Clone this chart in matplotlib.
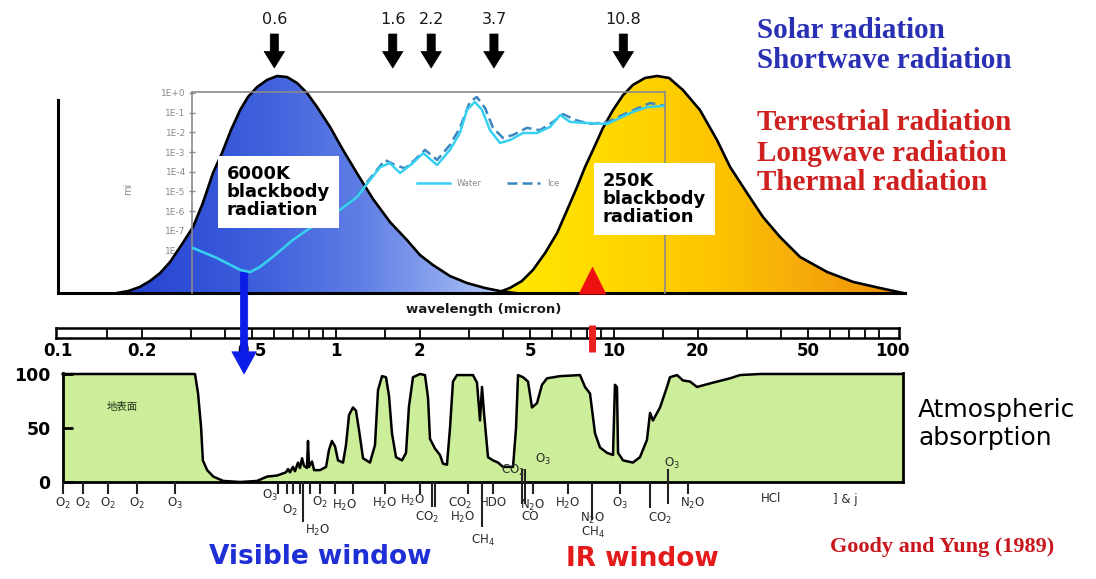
import numpy as np
import matplotlib
matplotlib.use("Agg")
import matplotlib.pyplot as plt
from matplotlib.patches import Polygon
from matplotlib.colors import to_rgb
from matplotlib.ticker import NullLocator

plt.rcParams['font.family'] = ['DejaVu Sans']

# ------------------------------------------------------------------ data
# Blackbody emission per log-wavelength, normalised to the peak
sun_wl = [0.163, 0.179, 0.197, 0.214, 0.233, 0.253, 0.275, 0.306, 0.332, 0.361,
          0.389, 0.419, 0.452, 0.482, 0.520, 0.565, 0.614, 0.667, 0.724, 0.786,
          0.855, 0.952, 1.060, 1.200, 1.359, 1.564, 1.800, 2.005, 2.232, 2.571,
          2.959, 3.435, 3.890, 4.404]
sun_rad = [0.0, 0.009, 0.028, 0.055, 0.092, 0.143, 0.212, 0.304, 0.415, 0.553,
           0.645, 0.751, 0.843, 0.903, 0.949, 0.982, 1.0, 0.995, 0.968, 0.922,
           0.857, 0.765, 0.659, 0.544, 0.433, 0.327, 0.244, 0.175, 0.129, 0.078,
           0.046, 0.023, 0.009, 0.0]

earth_wl = [3.79, 4.22, 4.66, 5.11, 5.65, 6.24, 6.78, 7.36, 7.87, 8.40,
            9.12, 9.92, 10.78, 11.70, 12.93, 14.29, 15.78, 17.71, 20.38, 23.47,
            26.15, 30.09, 34.35, 39.56, 46.70, 58.4, 72.5, 90.5, 109.5]
earth_rad = [0.0, 0.023, 0.055, 0.106, 0.184, 0.276, 0.382, 0.488, 0.581, 0.659,
             0.760, 0.843, 0.912, 0.959, 0.991, 1.0, 0.991, 0.935, 0.843, 0.705,
             0.581, 0.461, 0.350, 0.258, 0.166, 0.097, 0.051, 0.023, 0.0]

# Imaginary part of the refractive index (mi) of liquid water and ice
water_wl = [0.306, 0.373, 0.452, 0.491, 0.533, 0.593, 0.700, 0.787, 0.897, 1.03,
            1.19, 1.30, 1.44, 1.56, 1.70, 1.89, 2.06, 2.31, 2.57, 2.79,
            2.96, 3.16, 3.35, 3.58, 3.89, 4.23, 4.71, 5.28, 5.89, 6.40,
            6.95, 8.0, 9.44, 10.5, 11.7, 13.1, 15.0]
water_mi = [1.35e-8, 4.2e-9, 1.05e-9, 8.1e-10, 1.5e-9, 4.8e-9, 3.5e-8, 1.1e-7, 3.5e-7, 1.15e-6,
            5.2e-6, 2.7e-5, 1.7e-4, 2.8e-4, 8.7e-5, 2.8e-4, 8.9e-4, 2.2e-4, 1.3e-3, 9.3e-3,
            0.14, 0.35, 0.14, 0.013, 2.9e-3, 4.1e-3, 9.3e-3, 9.3e-3, 0.019, 0.076,
            0.034, 0.030, 0.027, 0.054, 0.11, 0.19, 0.22]
ice_wl = [0.306, 0.373, 0.452, 0.491, 0.533, 0.593, 0.700, 0.787, 0.897, 1.03,
          1.19, 1.33, 1.50, 1.63, 1.77, 1.92, 2.09, 2.31, 2.57, 2.79,
          3.03, 3.21, 3.44, 3.67, 3.99, 4.33, 4.86, 5.42, 6.04, 6.56,
          7.24, 8.20, 9.51, 10.7, 12.2, 13.5, 15.2]
ice_mi = [1.35e-8, 4.2e-9, 1.05e-9, 8.1e-10, 1.5e-9, 4.8e-9, 3.5e-8, 1.1e-7, 3.5e-7, 1.15e-6,
          6.6e-6, 4.9e-5, 4.0e-4, 2.2e-4, 1.5e-4, 4.0e-4, 1.3e-3, 4.0e-4, 2.3e-3, 0.017,
          0.35, 0.63, 0.17, 0.017, 5.2e-3, 7.4e-3, 0.017, 0.013, 0.034, 0.085,
          0.043, 0.027, 0.034, 0.076, 0.17, 0.31, 0.22]
mi_ticks = [1e0, 1e-1, 1e-2, 1e-3, 1e-4, 1e-5, 1e-6, 1e-7, 1e-8, 1e-9]
mi_tick_labels = ['1E+0', '1E-1', '1E-2', '1E-3', '1E-4', '1E-5', '1E-6', '1E-7', '1E-8', '1E-9']

# Atmospheric absorption (%) from the ground
abs_wl = [0.104, 0.311, 0.319, 0.327, 0.332, 0.344, 0.362, 0.393, 0.452, 0.520,
          0.565, 0.614, 0.661, 0.672, 0.683, 0.700, 0.712, 0.730, 0.742, 0.755,
          0.767, 0.786, 0.793, 0.800, 0.820, 0.834, 0.876, 0.921, 0.944, 0.967,
          0.992, 1.017, 1.060, 1.086, 1.114, 1.151, 1.180, 1.210, 1.251, 1.325,
          1.381, 1.416, 1.464, 1.513, 1.551, 1.590, 1.644, 1.727, 1.786, 1.830,
          1.892, 2.005, 2.090, 2.143, 2.178, 2.270, 2.366, 2.426, 2.507, 2.571,
          2.635, 2.724, 3.110, 3.215, 3.296, 3.351, 3.407, 3.522, 3.671, 3.826,
          3.988, 4.333, 4.442, 4.516, 4.707, 4.906, 5.070, 5.284, 5.508, 5.741,
          6.394, 7.546, 7.866, 8.197, 8.546, 8.904, 9.437, 9.917, 10.08, 10.25,
          10.34, 10.78, 11.70, 12.40, 13.14, 13.48, 13.81, 14.64, 15.51, 15.90,
          16.86, 17.71, 18.77, 19.89, 22.71, 26.15, 28.39, 33.51, 109.5]
abs_pct = [100, 100, 82, 51, 20, 11, 5, 1, 0, 1,
           5, 6, 9, 12, 9, 14, 10, 18, 13, 22,
           15, 13, 38, 14, 19, 11, 11, 14, 30, 38,
           33, 20, 18, 34, 62, 69, 66, 48, 22, 18,
           34, 85, 98, 97, 80, 45, 23, 20, 27, 70,
           97, 100, 99, 78, 40, 31, 25, 17, 16, 50,
           93, 99, 99, 92, 57, 88, 64, 23, 20, 18,
           14, 14, 50, 99, 97, 93, 69, 73, 90, 96,
           98, 99, 88, 82, 45, 32, 27, 25, 90, 88,
           27, 20, 18, 23, 39, 64, 57, 69, 88, 97,
           99, 94, 93, 88, 92, 96, 99, 100, 100]

# Absorption band centres and the absorbing gases
band_wl = [0.104, 0.123, 0.151, 0.192, 0.264, 0.618, 0.667, 0.700, 0.742, 0.761,
           0.806, 0.876, 0.992, 1.151, 1.500, 2.005, 2.215, 2.270, 2.983, 3.351,
           3.671, 4.666, 4.785, 5.113, 6.836, 8.337, 10.51, 13.48, 15.65, 18.47]
gas_names = ['O$_2$', 'O$_2$', 'O$_2$', 'O$_2$', 'O$_3$', 'O$_3$', 'O$_2$', 'H$_2$O', 'O$_2$',
             'H$_2$O', 'H$_2$O', 'H$_2$O', 'CO$_2$', 'CO$_2$', 'H$_2$O', 'CH$_4$', 'HDO',
             'N$_2$O', 'CO', 'H$_2$O', 'N$_2$O', 'CH$_4$', 'O$_3$', 'CO$_2$', 'N$_2$O',
             'HCl', '] & j', 'CO$_2$', 'O$_3$', 'O$_3$']
gas_wl = [0.104, 0.123, 0.151, 0.192, 0.264, 0.579, 0.683, 0.855, 0.876,
          1.077, 1.500, 1.892, 2.125, 2.793, 2.862, 3.379, 3.671,
          5.113, 4.986, 6.836, 8.40, 8.40, 10.51, 14.64, 19.09,
          36.7, 67.7, 4.333, 5.55, 16.17]

# Satellite channels and wavelength scale
channel_wl = [0.6, 1.6, 2.2, 3.7, 10.8]
scale_major = [0.1, 0.2, 0.5, 1, 2, 5, 10, 20, 50, 100]
scale_labels = ['0.1', '0.2', '0.5', '1', '2', '5', '10', '20', '50', '100']
scale_minor = [0.15, 0.2, 0.3, 0.4, 0.5, 0.6, 0.7, 0.8, 0.9, 1, 1.5, 2, 3, 4, 5, 6, 7,
               8, 9, 10, 15, 20, 30, 40, 50, 60, 70, 80, 90]
visible_window_wl = 0.467
ir_window_wl = 8.3

# ------------------------------------------------------------------ layout helpers
W, H, DPI = 1096, 579, 100
PX_AT_1UM, PX_PER_DECADE = 336, 278
BASE_PX, PEAK_PX = 293, 217


def rect(l, t, r, b):
    return [l / W, 1 - b / H, (r - l) / W, (b - t) / H]


def fy(py):
    return 1 - py / H


def px2lam(px):
    return 10 ** ((px - PX_AT_1UM) / PX_PER_DECADE)


def no_ticks(ax):
    for a in (ax.xaxis, ax.yaxis):
        a.set_major_locator(NullLocator())
        a.set_minor_locator(NullLocator())


def gradient_fill(ax, x, y, stops, zorder):
    poly = Polygon(np.column_stack([x, y]), closed=True, facecolor='none',
                   edgecolor='none', transform=ax.transData)
    ax.add_patch(poly)
    fr = np.linspace(0, 1, 800)
    pos = [s[0] for s in stops]
    cols = np.array([to_rgb(s[1]) for s in stops])
    rgb = np.stack([np.interp(fr, pos, cols[:, k]) for k in range(3)], axis=-1)
    im = ax.imshow(rgb[np.newaxis, :, :], extent=(0, 1, 0, 1), transform=ax.transAxes,
                   aspect='auto', zorder=zorder, interpolation='bilinear')
    im.set_clip_path(poly)


fig = plt.figure(figsize=(W / DPI, H / DPI), dpi=DPI)
fig.patch.set_facecolor('white')

# ------------------------------------------------------------------ blackbody panel
ax = fig.add_axes(rect(58, 60, 905, BASE_PX))
ax.set_zorder(2)
ax.patch.set_alpha(0)
ax.set_xscale('log')
ax.set_xlim(px2lam(58), px2lam(905))
ax.set_ylim(0, (BASE_PX - 60) / PEAK_PX)
ax.set_autoscale_on(False)
no_ticks(ax)
for s in ('top', 'right'):
    ax.spines[s].set_visible(False)
ax.spines['left'].set_linewidth(2.2)
ax.spines['bottom'].set_linewidth(2.2)
ax.spines['left'].set_bounds(0, (BASE_PX - 100) / PEAK_PX)


def frac(px):
    return (px - 58) / (905 - 58)


blue_stops = [(0.0, '#2440cc'), (frac(117), '#2540cf'), (frac(200), '#3252d8'),
              (frac(280), '#4465dd'), (frac(360), '#5f7ee5'), (frac(440), '#8aa4ee'),
              (frac(520), '#c4d3f8'), (1.0, '#c4d3f8')]
yellow_stops = [(0.0, '#ffe900'), (frac(500), '#ffe900'), (frac(620), '#ffd700'),
                (frac(720), '#fcc300'), (frac(800), '#f6ac0c'), (frac(900), '#f08f00'),
                (1.0, '#f08f00')]
gradient_fill(ax, sun_wl, sun_rad, blue_stops, 1)
gradient_fill(ax, earth_wl, earth_rad, yellow_stops, 1.1)
ax.plot(sun_wl, sun_rad, color='black', lw=1.9, zorder=3, solid_joinstyle='round')
ax.plot(earth_wl, earth_rad, color='black', lw=1.9, zorder=3, solid_joinstyle='round')

# IR window marker on the wavelength baseline
ax.plot([ir_window_wl], [0.058], marker='^', ms=20, color='#ee1111', mec='none',
        clip_on=False, zorder=4)

# satellite channel arrows
for wl in channel_wl:
    ax.annotate('', xy=(wl, fy(68)), xycoords=('data', 'figure fraction'),
                xytext=(wl, fy(34)), textcoords=('data', 'figure fraction'),
                arrowprops=dict(arrowstyle='simple,head_length=0.85,head_width=1.05,tail_width=0.42',
                                mutation_scale=14, fc='black', ec='black', lw=0.5,
                                shrinkA=0, shrinkB=0),
                annotation_clip=False)
    ax.annotate(f'{wl:g}', xy=(wl, fy(20)), xycoords=('data', 'figure fraction'),
                ha='center', va='center', fontsize=11.5, color='#1a1a1a',
                annotation_clip=False)

# visible window arrow down to the absorption panel
ax.annotate('', xy=(visible_window_wl, fy(374)), xycoords=('data', 'figure fraction'),
            xytext=(visible_window_wl, fy(272)), textcoords=('data', 'figure fraction'),
            arrowprops=dict(arrowstyle='simple,head_length=1.0,head_width=1.1,tail_width=0.33',
                            mutation_scale=16, fc='#0b1de6', ec='#0b1de6', lw=0.5,
                            shrinkA=0, shrinkB=0),
            annotation_clip=False)

# ------------------------------------------------------------------ refractive index inset
mi_lo, mi_hi = 10 ** (-(BASE_PX - 93) / 19.7), 10 ** (1 / 19.7)

ax_fr = fig.add_axes(rect(192, 92, 665, BASE_PX))
ax_fr.set_zorder(1.5)
ax_fr.patch.set_alpha(0)
ax_fr.set_xscale('log')
ax_fr.set_yscale('log')
ax_fr.set_xlim(px2lam(192), px2lam(665))
ax_fr.set_ylim(mi_lo, mi_hi)
for s in ax_fr.spines.values():
    s.set_visible(False)
ax_fr.xaxis.set_major_locator(NullLocator())
ax_fr.xaxis.set_minor_locator(NullLocator())
ax_fr.set_yticks(mi_ticks, labels=mi_tick_labels)
ax_fr.yaxis.set_minor_locator(NullLocator())
ax_fr.tick_params(axis='y', direction='inout', length=5, width=1, color='#8a8a8a',
                  labelsize=6.5, labelcolor='#8a8a8a', pad=2)
ax_fr.set_ylabel('mi', fontsize=7, color='#8a8a8a')
ax_fr.yaxis.set_label_coords(-0.125, 0.52)

ax_in = fig.add_axes(rect(192, 92, 665, BASE_PX))
ax_in.set_zorder(3)
ax_in.patch.set_alpha(0)
ax_in.set_xscale('log')
ax_in.set_yscale('log')
ax_in.set_xlim(px2lam(192), px2lam(665))
ax_in.set_ylim(mi_lo, mi_hi)
no_ticks(ax_in)
for s in ('top', 'left', 'right'):
    ax_in.spines[s].set_color('#8a8a8a')
    ax_in.spines[s].set_linewidth(1.2)
ax_in.spines['bottom'].set_visible(False)
ax_in.plot(water_wl, water_mi, color='#38d0f0', lw=1.8, label='Water', zorder=3)
ax_in.plot(ice_wl, ice_mi, color='#3a86c0', lw=1.8, ls=(0, (4, 2)), label='Ice', zorder=2.9)
ax_in.legend(loc='center left', bbox_to_anchor=(417 / W, fy(183)),
             bbox_transform=fig.transFigure, ncol=2, frameon=False, fontsize=6,
             handlelength=4.0, columnspacing=3.0, handletextpad=0.8, borderpad=0,
             borderaxespad=0, labelcolor='#8a8a8a')

# ------------------------------------------------------------------ wavelength scale bar
ax_sc = fig.add_axes(rect(56, 328, 899, 338))
ax_sc.set_zorder(1)
ax_sc.set_xscale('log')
ax_sc.set_xlim(px2lam(56), px2lam(899))
ax_sc.set_ylim(0, 1)
ax_sc.yaxis.set_major_locator(NullLocator())
ax_sc.set_xticks(scale_major, labels=scale_labels, fontweight='bold', fontsize=12)
ax_sc.xaxis.set_minor_locator(NullLocator())
ax_sc.tick_params(axis='x', length=0, pad=3)
for s in ax_sc.spines.values():
    s.set_linewidth(1.8)
ax_sc.vlines(scale_minor, 0, 1, color='black', lw=1.3)
ax_sc.plot([ir_window_wl, ir_window_wl], [-1.4, 1.3], color='#e82020', lw=5,
           solid_capstyle='butt', clip_on=False, zorder=5)

# ------------------------------------------------------------------ absorption panel
PCT_PX = 1.08
ax_b = fig.add_axes(rect(63, 373, 903, 482))
ax_b.set_zorder(1)
ax_b.set_xscale('log')
ax_b.set_xlim(px2lam(63), px2lam(903))
ax_b.set_ylim(0, 109 / PCT_PX)
ax_b.set_autoscale_on(False)
ax_b.xaxis.set_major_locator(NullLocator())
ax_b.xaxis.set_minor_locator(NullLocator())
ax_b.spines['top'].set_visible(False)
for s in ('left', 'bottom', 'right'):
    ax_b.spines[s].set_linewidth(2.0)
ax_b.set_yticks([0, 50, 100], labels=['0', '50', '100'], fontweight='bold', fontsize=12.5)
ax_b.tick_params(axis='y', direction='in', length=7, width=2, pad=9)

ax_b.fill_between(abs_wl, abs_pct, 0, color='#ccee9a', lw=0, zorder=1)
ax_b.plot(abs_wl, abs_pct, color='black', lw=1.8, zorder=2, clip_on=False,
          solid_joinstyle='round')
ax_b.text(0.17, 69, '地表面', fontsize=7.5, color='#23301a', ha='center', va='center',
          family=['Noto Sans CJK JP', 'DejaVu Sans'])

# band ticks below the frame (lengths in pixels)
tick_down = [12] * len(band_wl)
tick_up = [0] * len(band_wl)
for i, n in ((9, 40), (16, 25), (17, 25), (19, 45), (21, 22), (22, 22),
             (25, 38), (27, 26), (28, 22)):
    tick_down[i] = n
for i in (21, 22, 28):
    tick_up[i] = 13
ax_b.vlines(band_wl, [-d / PCT_PX for d in tick_down], [u / PCT_PX for u in tick_up],
            color='#222222', lw=1.5, clip_on=False, zorder=3)

# gas labels: vertical pixel row of each label centre
gas_row_px = [503, 503, 503, 503, 503, 495, 510, 530, 502,
              505, 503, 500, 517, 503, 517, 540, 503,
              505, 517, 503, 518, 532, 503, 518, 503,
              499, 499, 470, 459, 463]
for name, wl, row in zip(gas_names, gas_wl, gas_row_px):
    ax_b.annotate(name, xy=(wl, 0), xytext=(0, -(row - 482) * 72 / DPI),
                  textcoords='offset points', ha='center', va='center',
                  fontsize=8.5, color='#2a2a2a', annotation_clip=False, zorder=4)

# ------------------------------------------------------------------ text
box = dict(facecolor='white', edgecolor='none', pad=6.5)
fig.text(227 / W, fy(192), '6000K\nblackbody\nradiation', ha='left', va='center',
         fontsize=13, fontweight='bold', linespacing=0.98, bbox=box, zorder=10)
fig.text(603 / W, fy(199), '250K\nblackbody\nradiation', ha='left', va='center',
         fontsize=13, fontweight='bold', linespacing=0.98, bbox=box, zorder=10)

fig.text(484 / W, fy(310), 'wavelength (micron)', ha='center', va='center',
         fontsize=9.5, fontweight='bold', color='#1a1a1a')

serif = ['Liberation Serif', 'DejaVu Serif']
for txt, py, col in (('Solar radiation', 30, '#2a30b4'),
                     ('Shortwave radiation', 60, '#2a30b4'),
                     ('Terrestrial radiation', 123, '#cf2020'),
                     ('Longwave radiation', 153, '#cf2020'),
                     ('Thermal radiation', 183, '#cf2020')):
    fig.text(757 / W, fy(py), txt, ha='left', va='center', fontsize=21,
             fontweight='bold', family=serif, color=col)

fig.text(918 / W, fy(410), 'Atmospheric', ha='left', va='center', fontsize=18, color='black')
fig.text(918 / W, fy(438), 'absorption', ha='left', va='center', fontsize=18, color='black')

fig.text(320 / W, fy(557), 'Visible window', ha='center', va='center', fontsize=19,
         fontweight='bold', color='#1f2fd6')
fig.text(642 / W, fy(559), 'IR window', ha='center', va='center', fontsize=19,
         fontweight='bold', color='#e41b1b')
fig.text(942 / W, fy(547), 'Goody and Yung (1989)', ha='center', va='center',
         fontsize=16, fontweight='bold', family=serif, color='#c8161c')

fig.savefig('out.png', dpi=DPI, facecolor='white')
